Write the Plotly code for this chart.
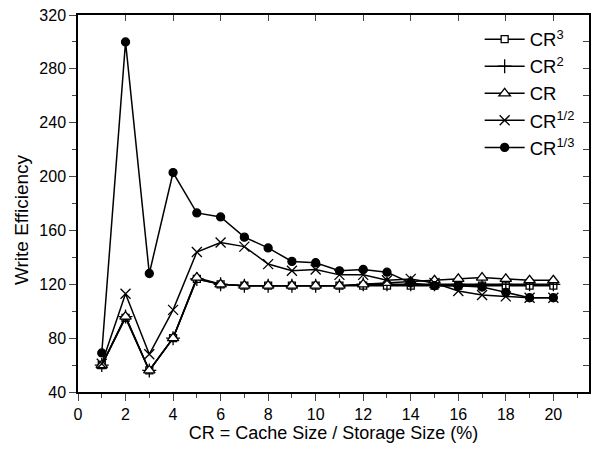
import plotly.graph_objects as go

cr = list(range(1, 21))
cr3 = [60, 95, 56, 80, 124, 120, 119, 119, 119, 119, 119, 119, 119, 119, 119, 119, 119, 119, 119, 119]
cr2 = [60, 96, 56, 80, 124, 120, 119, 119, 119, 119, 119, 120, 120, 120, 120, 120, 120, 120, 120, 120]
cr1 = [60, 96, 56, 80, 125, 120, 119, 119, 119, 119, 119, 120, 121, 122, 123, 124, 125, 124, 123, 123]
cr_half = [61, 113, 68, 101, 144, 151, 148, 135, 130, 131, 127, 127, 123, 124, 121, 115, 112, 111, 110, 110]
cr_third = [69, 300, 128, 203, 173, 170, 155, 147, 137, 136, 130, 131, 129, 121, 119, 119, 118, 114, 110, 110]

names = ["CR<sup>3</sup>", "CR<sup>2</sup>", "CR", "CR<sup>1/2</sup>", "CR<sup>1/3</sup>"]
series = [cr3, cr2, cr1, cr_half, cr_third]
symbols = ["square", "cross-thin", "triangle-up", "x-thin", "circle"]
fills = ["white", "black", "white", "black", "black"]
sizes = [7, 10, 10, 10, 8]

fig = go.Figure()
for n, s, sym, fc, sz in zip(names, series, symbols, fills, sizes):
    fig.add_trace(go.Scatter(
        x=cr, y=s, name=n, mode="lines+markers",
        line=dict(color="black", width=1.5),
        marker=dict(symbol=sym, size=sz, color=fc, line=dict(color="black", width=1.3)),
    ))

fig.add_trace(go.Scatter(x=[None], y=[None], xaxis="x2", yaxis="y2", showlegend=False, hoverinfo="skip"))

font = "Liberation Sans, Arial, sans-serif"
fig.update_layout(
    width=601, height=452,
    margin=dict(l=78, r=12, t=15, b=60, autoexpand=False),
    plot_bgcolor="white", paper_bgcolor="white",
    font=dict(family=font, size=16, color="black"),
    showlegend=True,
    legend=dict(x=0.786, y=0.985, xanchor="left", yanchor="top", bgcolor="rgba(0,0,0,0)",
                font=dict(size=18.5), itemwidth=40),
    xaxis=dict(range=[0, 21.5], dtick=2, tick0=0, ticks="outside", ticklen=7, tickwidth=1.3,
               showline=True, linecolor="black", linewidth=1.5, showgrid=False, zeroline=False,
               automargin=False, tickfont=dict(size=16),
               minor=dict(dtick=1, ticks="outside", ticklen=4, tickwidth=1.3),
               title=dict(text="CR = Cache Size / Storage Size (%)", font=dict(size=18), standoff=4)),
    yaxis=dict(range=[40, 320], dtick=40, tick0=40, ticks="outside", ticklen=7, tickwidth=1.3,
               showline=True, linecolor="black", linewidth=1.5, showgrid=False, zeroline=False,
               automargin=False, tickfont=dict(size=16),
               minor=dict(dtick=20, ticks="outside", ticklen=4, tickwidth=1.3)),
    xaxis2=dict(range=[0, 21.5], dtick=2, tick0=0, overlaying="x", side="top", anchor="y",
                ticks="inside", ticklen=6, tickwidth=1.3, showticklabels=False, automargin=False,
                showline=True, linecolor="black", linewidth=1.5, showgrid=False, zeroline=False),
    yaxis2=dict(range=[40, 320], dtick=20, tick0=40, overlaying="y", side="right", anchor="x",
                ticks="inside", ticklen=6, tickwidth=1.3, showticklabels=False, automargin=False,
                showline=True, linecolor="black", linewidth=1.5, showgrid=False, zeroline=False),
    annotations=[dict(text="Write Efficiency", textangle=-90, xref="paper", yref="paper",
                      x=-0.1115, y=0.456, xanchor="center", yanchor="middle", showarrow=False,
                      font=dict(size=19))],
)

fig.write_html("out.html")
